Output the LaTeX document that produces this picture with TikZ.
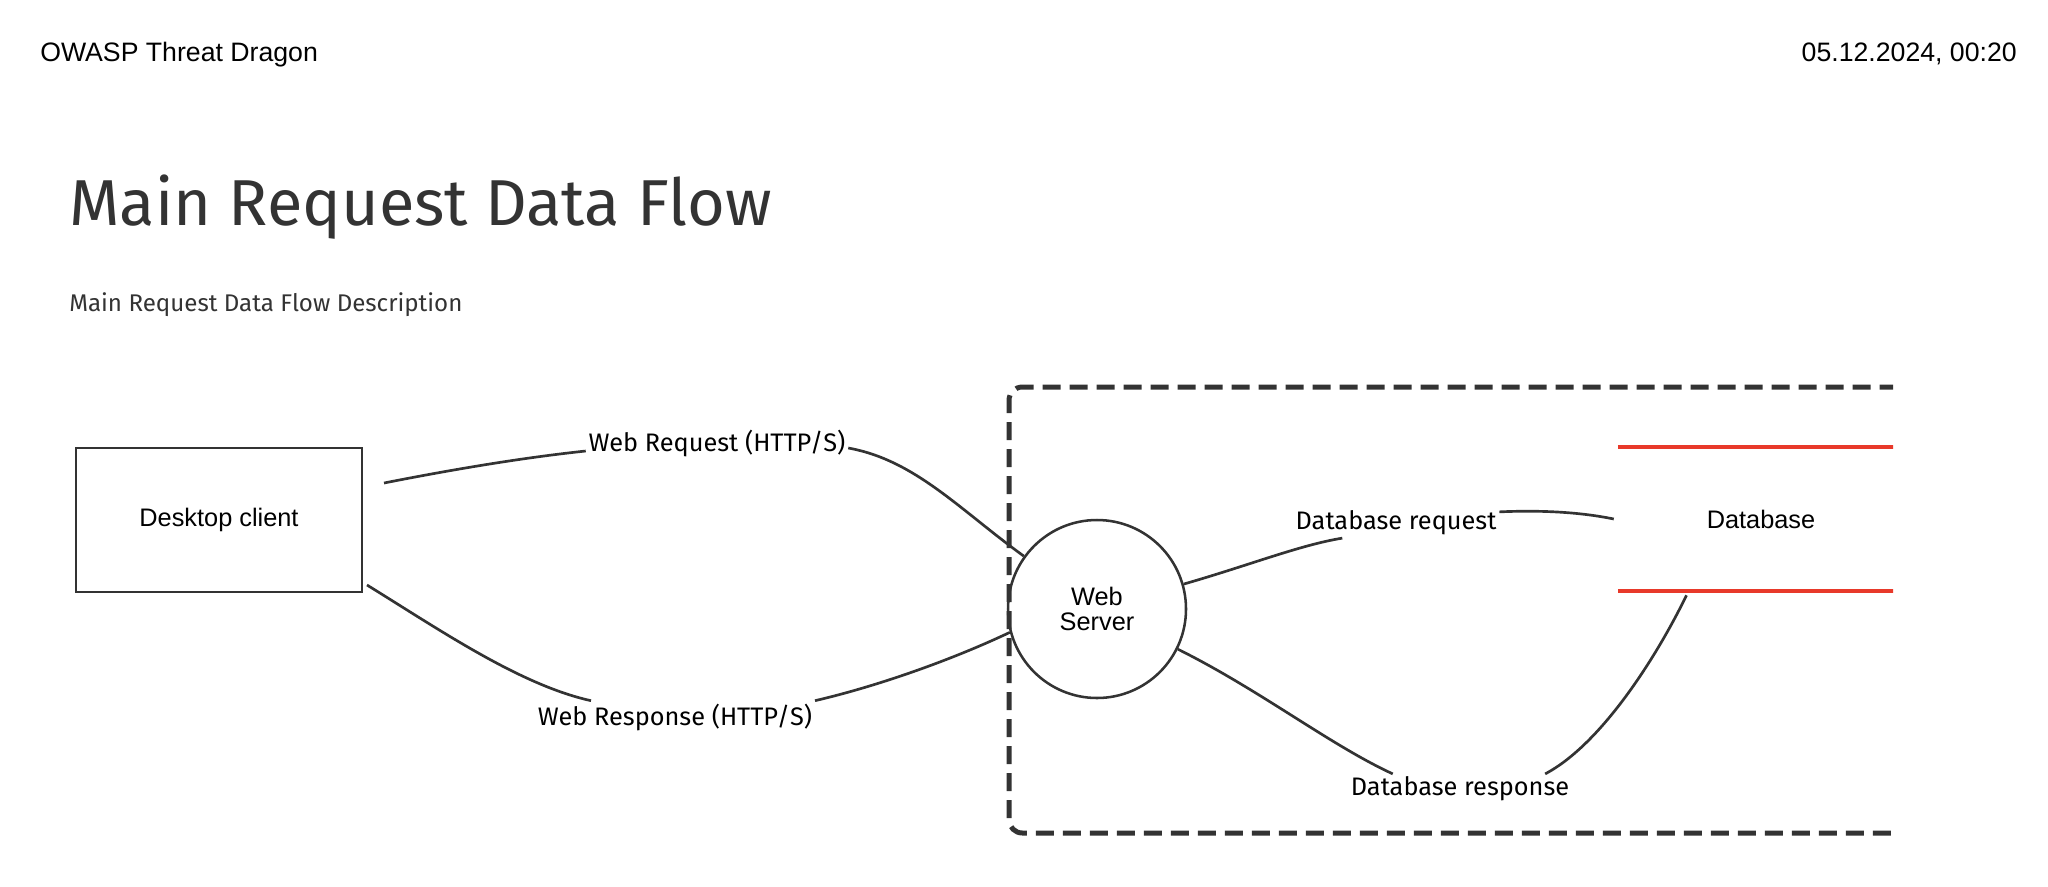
\documentclass[tikz,border=0pt]{standalone}
\usepackage{fontspec}
\setmainfont{Liberation Sans}
\newfontfamily\ubu{Fira Sans}
\usetikzlibrary{calc}
\definecolor{ink}{HTML}{333333}
\definecolor{dbred}{HTML}{E8392A}
\begin{document}
\begin{tikzpicture}[x=0.75pt,y=-0.75pt,
  header/.style={font=\fontsize{20}{24}\selectfont, text=black, inner sep=0pt},
  titletext/.style={font=\ubu\fontsize{48.7}{56}\selectfont, text=ink, inner sep=0pt, anchor=base west},
  subtext/.style={font=\ubu\fontsize{18.1}{22}\selectfont, text=ink, inner sep=0pt, anchor=base west},
  process/.style={draw=ink, line width=1.9pt, minimum width=214.5pt, minimum height=108pt, font=\fontsize{19}{19}\selectfont, align=center},
  procircle/.style={circle, draw=ink, line width=1.9pt, minimum size=133.5pt, inner sep=0pt, font=\fontsize{19}{18.75}\selectfont, align=center},
  store/.style={minimum width=214.5pt, minimum height=108pt, inner sep=0pt, font=\fontsize{19}{19}\selectfont},
  storeline/.style={draw=dbred, line width=3pt},
  boundary/.style={draw=ink, line width=3.75pt, dash pattern=on 13.5pt off 6.75pt, rounded corners=10pt, minimum width=818.25pt, minimum height=334.5pt, inner sep=0pt},
  flowlbl/.style={font=\ubu\fontsize{19}{22}\selectfont, text=black, inner sep=2pt},
  flow/.style={draw=ink, line width=2pt},
]
\useasboundingbox (0,0) rectangle (2048,886);

% header
\node[header, anchor=base west] (brand) at (40,61) {OWASP Threat Dragon};
\node[header, anchor=base east] (stamp) at (2017,61) {05.12.2024, 00:20};
\node[titletext] (title) at (69,225) {Main Request Data Flow};
\node[subtext] (desc) at (69,311) {Main Request Data Flow Description};

% trust boundary (clipped on the right)
\begin{scope}
  \clip (0,0) rectangle (1893,886);
  \node[boundary] (tb) at (1554.5,610) {};
\end{scope}

% elements
\node[process] (client) at (219,520) {Desktop client};
\node[procircle] (ws) at (1097,609) {Web\\Server};
\node[store] (db) at (1761,519) {Database};
\begin{scope}
  \clip (0,0) rectangle (1893,886);
  \draw[storeline] (db.north west) -- (db.north east);
  \draw[storeline] (db.south west) -- (db.south east);
\end{scope}

% free ends near the client
\coordinate (c1s) at (384,483);
\coordinate (c2s) at (367,585);

% labels
\node[flowlbl] (l1) at (717,443) {Web Request (HTTP/S)};
\node[flowlbl] (l2) at (675,717) {Web Response (HTTP/S)};
\node[flowlbl] (l3) at (1396,523) {Database request};
\node[flowlbl] (l4) at (1460,789) {Database response};

% flows
\draw[flow] (c1s) .. controls (450,470) and (520,458) .. (l1.base west);
\draw[flow] ($(l1.base east)+(0,-3)$) .. controls (915,460) and (960,510) .. (ws);

\draw[flow] (c2s) .. controls (440,630) and (520,685) .. ($(l2.north west)!0.2!(l2.north east)$);
\draw[flow] (l2.north east) .. controls (870,688) and (945,663) .. (ws.195);

\draw[flow] (ws) .. controls (1250,565) and (1300,545) .. ($(l3.south west)!0.24!(l3.south east)$);
\draw[flow] ($(l3.north east)+(0,4)$) .. controls (1540,510) and (1580,512) .. ($(db.west)+(-4,0)$);

\draw[flow] (ws) .. controls (1260,690) and (1330,745) .. ($(l4.north west)!0.2!(l4.north east)$);
\draw[flow] ($(l4.north west)!0.88!(l4.north east)$) .. controls (1600,745) and (1655,660) .. ($(db.south west)!0.24!(db.south east)+(0,4)$);
\end{tikzpicture}
\end{document}
